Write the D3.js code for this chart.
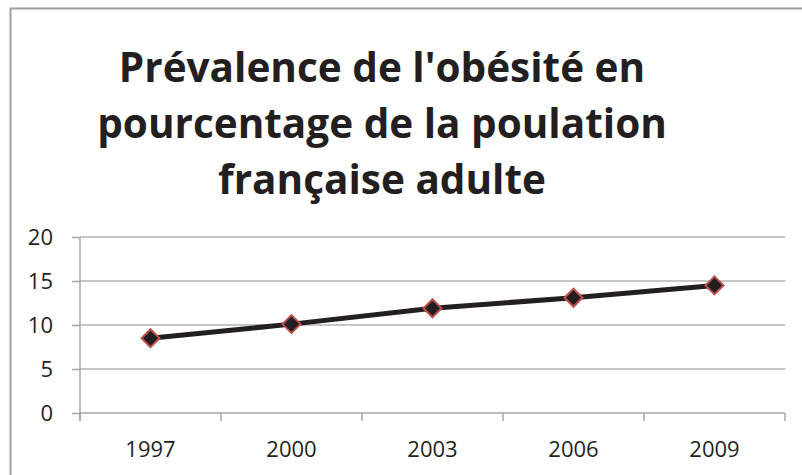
<!DOCTYPE html>
<html>
<head>
<meta charset="utf-8">
<script src="https://cdn.jsdelivr.net/npm/d3@7"></script>
<style>
	body { margin:0; background:#fff; }
	svg { display:block; }
	.grid line { stroke:#b3b3b3; stroke-width:1.5; }
	.axis path, .axis line { stroke:#a6a6a6; stroke-width:1.5; }
	.axis text { font-family:"Open Sans", sans-serif; font-size:22px; fill:#231f20; }
</style>
</head>
<body>
<div id="svgContainer"></div>
<script>
// chart data
var years = ["1997", "2000", "2003", "2006", "2009"];
var obesity = [8.5, 10.1, 11.9, 13.1, 14.5];
var yTicks = [0, 5, 10, 15, 20];
var titleLines = ["Prévalence de l'obésité en", "pourcentage de la poulation", "française adulte"];

const width = 802, height = 475;
const plot = {left:80, right:785, top:237, bottom:413};

var svg = d3.select("#svgContainer").append("svg")
	.attr("width", width)
	.attr("height", height);

// outer frame (only left and top are visible)
svg.append("path")
	.attr("d", "M10.5," + height + " V8.5 H" + width)
	.attr("fill", "none")
	.attr("stroke", "#a0a0a0")
	.attr("stroke-width", 2);

// title
svg.append("g").selectAll("text")
	.data(titleLines)
	.enter()
	.append("text")
	.attr("x", 382)
	.attr("y", function (d, i) { return 82 + i * 56; })
	.attr("text-anchor", "middle")
	.style("font-family", "'Open Sans', sans-serif")
	.style("font-weight", "bold")
	.style("font-size", "40.5px")
	.style("fill", "#231f20")
	.text(function (d) { return d; });

var xScale = d3.scaleBand().domain(years).range([plot.left, plot.right]);
var yScale = d3.scaleLinear().domain([0, 20]).range([plot.bottom, plot.top]);

// horizontal gridlines
svg.append("g").attr("class", "grid")
	.selectAll("line")
	.data(yTicks.slice(1))
	.enter()
	.append("line")
	.attr("x1", plot.left)
	.attr("x2", plot.right)
	.attr("y1", function (d) { return yScale(d); })
	.attr("y2", function (d) { return yScale(d); });

// y axis
var yAxis = d3.axisLeft(yScale).tickValues(yTicks).tickSize(8).tickPadding(19);
svg.append("g").attr("class", "axis y")
	.attr("transform", "translate(" + plot.left + ",0)")
	.call(yAxis)
	.call(function (g) { g.select(".domain").attr("d", "M0," + plot.top + "V" + (plot.bottom + 8)); });

// x axis: ticks on the category boundaries
var xAxis = d3.axisBottom(xScale).tickSize(0).tickPadding(28);
var xg = svg.append("g").attr("class", "axis x")
	.attr("transform", "translate(0," + plot.bottom + ")")
	.call(xAxis);
xg.select(".domain").attr("d", "M" + plot.left + ",0H" + plot.right);
xg.selectAll(".bound")
	.data(years.concat(["end"]))
	.enter()
	.append("line")
	.attr("class", "bound")
	.attr("x1", function (d, i) { return plot.left + i * xScale.step(); })
	.attr("x2", function (d, i) { return plot.left + i * xScale.step(); })
	.attr("y1", 0)
	.attr("y2", 8);

// line
var lineFunction = d3.line()
	.x(function (d, i) { return xScale(years[i]) + xScale.bandwidth() / 2; })
	.y(function (d) { return yScale(d); });

svg.append("path")
	.datum(obesity)
	.attr("d", lineFunction)
	.attr("fill", "none")
	.attr("stroke", "#231f20")
	.attr("stroke-width", 5)
	.attr("stroke-linejoin", "round");

// diamond markers
svg.append("g").selectAll("path")
	.data(obesity)
	.enter()
	.append("path")
	.attr("transform", function (d, i) {
		return "translate(" + (xScale(years[i]) + xScale.bandwidth() / 2) + "," + yScale(d) + ")";
	})
	.attr("d", "M0,-9L9,0L0,9L-9,0Z")
	.attr("fill", "#231f20")
	.attr("stroke", "#c0504d")
	.attr("stroke-width", 2);
</script>
</body>
</html>
